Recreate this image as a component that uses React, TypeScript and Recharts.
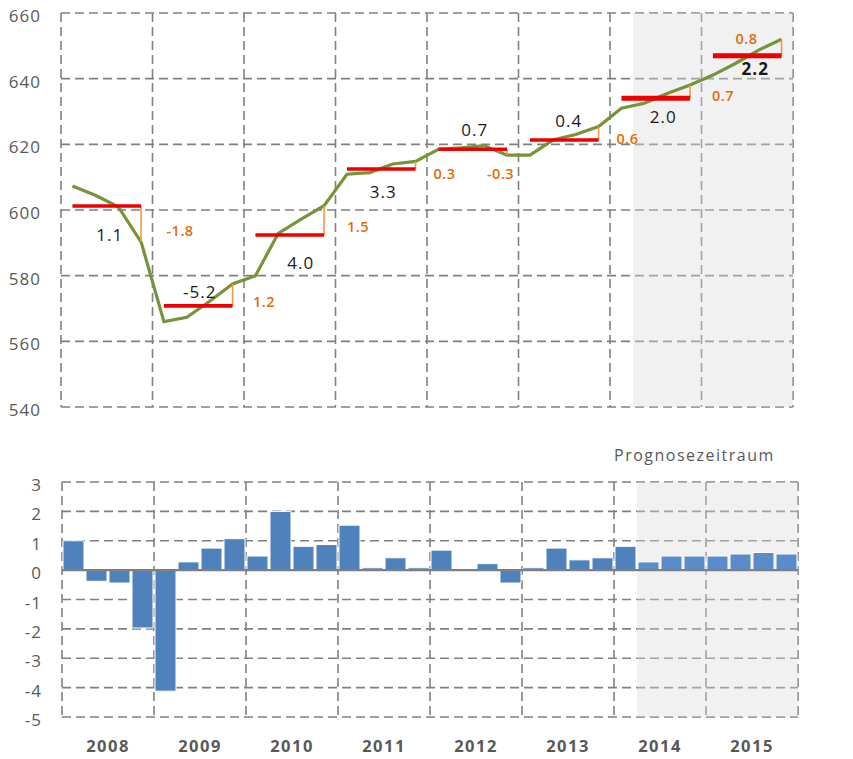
import {
  ComposedChart,
  Line,
  Bar,
  Cell,
  XAxis,
  YAxis,
  CartesianGrid,
  ReferenceLine,
  ReferenceArea,
} from 'recharts'

const FONT = '"Open Sans", "Noto Sans", sans-serif'
const GRID = '#808080'
const TICK = '#595959'

const years = ['2008', '2009', '2010', '2011', '2012', '2013', '2014', '2015']
const quarterNames = ['I', 'II', 'III', 'IV']
const quarters = years.flatMap((y) => quarterNames.map((q) => `${q}/${y}`))

// quarterly level (top panel)
const level = [
  607.3, 604.5, 601.0, 590.3,
  566.0, 567.3, 572.2, 577.5,
  580.0, 592.9, 597.2, 601.3,
  610.9, 611.4, 614.0, 614.8,
  618.5, 618.9, 619.6, 616.7,
  616.7, 621.3, 623.0, 625.4,
  631.0, 632.5, 635.5, 638.1,
  641.1, 644.7, 648.7, 652.0,
]

// quarter-on-quarter change in % (bottom panel)
const growth = [
  1.0, -0.38, -0.44, -1.97,
  -4.12, 0.28, 0.75, 1.07,
  0.48, 2.0, 0.81, 0.87,
  1.53, 0.08, 0.42, 0.08,
  0.68, 0, 0.22, -0.44,
  0.08, 0.75, 0.35, 0.42,
  0.81, 0.28, 0.48, 0.48,
  0.48, 0.55, 0.6, 0.55,
]

// annual averages, annual growth and carry-over
const annualAvg = [601.2, 570.8, 592.4, 612.5, 618.5, 621.3, 634.0, 647.0]
const annualGrowth = ['1.1', '-5.2', '4.0', '3.3', '0.7', '0.4', '2.0', '2.2']
const overhang = ['-1.8', '1.2', '1.5', '0.3', '-0.3', '0.6', '0.7', '0.8']

const forecastFrom = 'II/2014'
const levelTicks = [540, 560, 580, 600, 620, 640, 660]
const growthTicks = [-5, -4, -3, -2, -1, 0, 1, 2, 3]
const yearBounds = [0, 4, 8, 12, 16, 20, 24, 28, 32]
const yearMids = [2, 6, 10, 14, 18, 22, 26, 30]

// label offsets (px) relative to the red segment
const growthLabelPos = [[3, 29], [1.5, -14], [11, 28], [2, 23], [2, -19], [4.5, -19], [7.5, 19], [8, 13]]
const overhangLabelPos = [[39, 24.7], [31.5, -4.3], [34, -7.5], [29, 5.2], [-6.5, 24.9], [29, -1.5], [33, -2.1], [-35, -16.9]]

const data = quarters.map((q, i) => ({ q, n: i + 0.5, level: level[i], growth: growth[i] }))
const forecastIdx = quarters.indexOf(forecastFrom)

const yTick = (anchor: 'start' | 'end') => (p: any) => (
  <text x={p.x} y={p.y + 9} textAnchor={anchor} fill={TICK} fontSize={17} fontWeight={500} fontFamily={FONT} letterSpacing={1}>
    {p.payload.value}
  </text>
)

const yearTick = (p: any) => (
  <text x={p.x} y={p.y + 35} textAnchor="middle" fill={TICK} fontSize={16.5} fontWeight="bold" fontFamily={FONT} letterSpacing={1.5}>
    {years[p.index]}
  </text>
)

const yearLabel = (i: number) => (props: any) => {
  const vb = props.viewBox
  const cx = vb.x + vb.width / 2
  const [gx, gy] = growthLabelPos[i]
  const [ox, oy] = overhangLabelPos[i]
  return (
    <g>
      <text
        x={cx + gx}
        y={vb.y + gy + 6}
        textAnchor="middle"
        fill="#1a1a1a"
        fontSize={17}
        fontWeight={i === 7 ? 'bold' : 'normal'}
        fontFamily={FONT}
        letterSpacing={1}
      >
        {annualGrowth[i]}
      </text>
      <text
        x={vb.x + vb.width + ox}
        y={vb.y + oy + 5}
        textAnchor="middle"
        fill="#E46C0A"
        fontSize={14.5}
        fontWeight={600}
        fontFamily={FONT}
        letterSpacing={0.5}
      >
        {overhang[i]}
      </text>
    </g>
  )
}

export default function App() {
  return (
    <div style={{ position: 'absolute', left: 0, top: 0, width: 853, height: 759, background: '#fff', fontFamily: FONT }}>
      <div style={{ position: 'absolute', left: 0, top: 0 }}>
        <ComposedChart width={853} height={420} data={data} margin={{ top: 13, right: 0, bottom: 13, left: 0 }}>
          <XAxis xAxisId="q" dataKey="q" scale="band" height={0} hide />
          <XAxis xAxisId="grid" dataKey="n" type="number" domain={[0, 32]} ticks={yearBounds} allowDataOverflow height={0} hide />
          <YAxis
            yAxisId="l"
            orientation="left"
            width={61}
            domain={[540, 660]}
            ticks={levelTicks}
            axisLine={false}
            tickLine={false}
            tickSize={0}
            tickMargin={20}
            tick={yTick('end')}
          />
          <YAxis
            yAxisId="r"
            orientation="right"
            width={60}
            domain={[540, 660]}
            ticks={levelTicks}
            axisLine={false}
            tickLine={false}
            tickSize={0}
            tickMargin={23}
            tick={yTick('start')}
          />
          <ReferenceArea
            xAxisId="q"
            yAxisId="l"
            x1={forecastFrom}
            x2={quarters[quarters.length - 1]}
            fill="#d9d9d9"
            fillOpacity={0.38}
            stroke="none"
          />
          <CartesianGrid xAxisId="grid" yAxisId="l" stroke={GRID} strokeWidth={1.6} strokeDasharray="9 5" />
          <Line
            xAxisId="q"
            yAxisId="l"
            dataKey="level"
            type="linear"
            stroke="#77933C"
            strokeWidth={3.2}
            dot={false}
            isAnimationActive={false}
          />
          {years.map((y, i) => (
            <ReferenceLine
              key={'o' + y}
              xAxisId="q"
              yAxisId="l"
              segment={[
                { x: quarters[i * 4 + 3], y: annualAvg[i] },
                { x: quarters[i * 4 + 3], y: level[i * 4 + 3] },
              ]}
              stroke="#F79646"
              strokeWidth={1.6}
            />
          ))}
          {years.map((y, i) => (
            <ReferenceLine
              key={'r' + y}
              xAxisId="q"
              yAxisId="l"
              segment={[
                { x: quarters[i * 4], y: annualAvg[i] },
                { x: quarters[i * 4 + 3], y: annualAvg[i] },
              ]}
              stroke="#EE0000"
              strokeWidth={i >= 6 ? 5 : 3.6}
              label={yearLabel(i)}
            />
          ))}
        </ComposedChart>
      </div>

      <div
        style={{
          position: 'absolute',
          left: 614,
          top: 444,
          fontSize: 16,
          fontWeight: 500,
          letterSpacing: 1.5,
          color: TICK,
          fontFamily: FONT,
          lineHeight: '22px',
          whiteSpace: 'nowrap',
        }}
      >
        Prognosezeitraum
      </div>

      <div style={{ position: 'absolute', left: 0, top: 440 }}>
        <ComposedChart width={853} height={319} data={data} margin={{ top: 42, right: 0, bottom: 12, left: 0 }}>
          <XAxis
            xAxisId="yr"
            dataKey="n"
            type="number"
            domain={[0, 32]}
            ticks={yearMids}
            allowDataOverflow
            height={30}
            axisLine={false}
            tickLine={false}
            tickSize={0}
            tickMargin={0}
            tick={yearTick}
          />
          <XAxis xAxisId="q" dataKey="q" height={0} hide />
          <XAxis xAxisId="grid" dataKey="n" type="number" domain={[0, 32]} ticks={yearBounds} allowDataOverflow height={0} hide />
          <YAxis
            yAxisId="l"
            orientation="left"
            width={62}
            domain={[-5, 3]}
            ticks={growthTicks}
            axisLine={false}
            tickLine={false}
            tickSize={0}
            tickMargin={20}
            tick={yTick('end')}
          />
          <YAxis
            yAxisId="r"
            orientation="right"
            width={55}
            domain={[-5, 3]}
            ticks={growthTicks}
            axisLine={false}
            tickLine={false}
            tickSize={0}
            tickMargin={22}
            tick={yTick('start')}
          />
          <ReferenceArea
            xAxisId="q"
            yAxisId="l"
            x1={forecastFrom}
            x2={quarters[quarters.length - 1]}
            fill="#d9d9d9"
            fillOpacity={0.38}
            stroke="none"
          />
          <CartesianGrid xAxisId="grid" yAxisId="l" stroke={GRID} strokeWidth={1.6} strokeDasharray="9 5" />
          <Bar xAxisId="q" yAxisId="l" dataKey="growth" barSize={21} stroke="#ffffff" strokeWidth={1} isAnimationActive={false}>
            {data.map((d, i) => (
              <Cell key={d.q} fill={i >= forecastIdx ? '#5B8BC8' : '#4F81BD'} />
            ))}
          </Bar>
          <ReferenceLine xAxisId="q" yAxisId="l" y={0} stroke="#7f7f7f" strokeWidth={2.2} />
        </ComposedChart>
      </div>
    </div>
  )
}
